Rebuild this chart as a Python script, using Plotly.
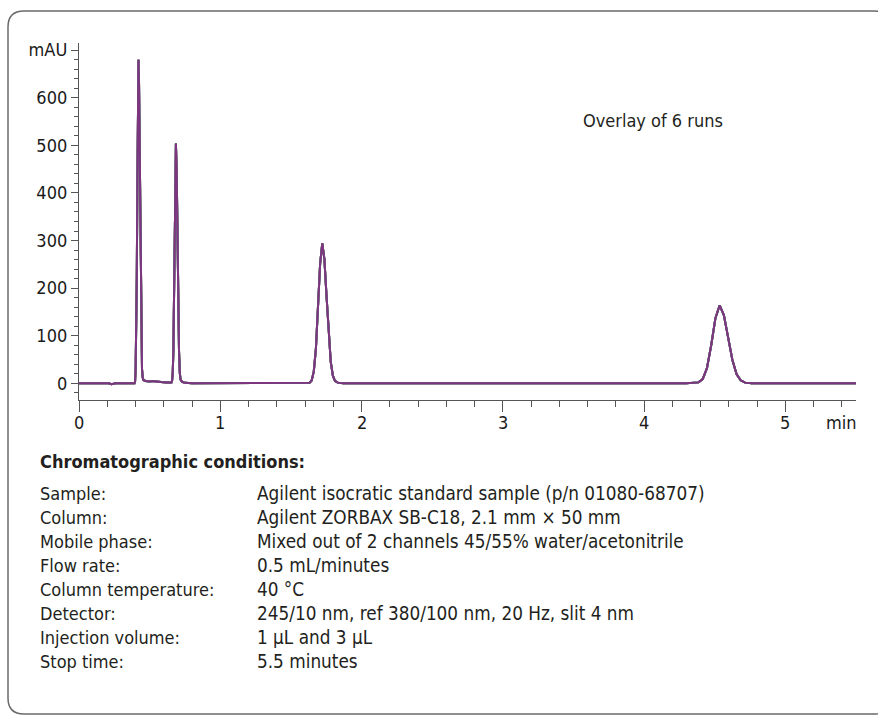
import plotly.graph_objects as go

# ---------------- data (time in min, signal in mAU) -------------
lead_time = [0.00, 0.21, 0.23, 0.245, 0.26, 0.393]
lead_mAU = [0, 0, -2, -1, 0, 0]

peak1_time = [0.397, 0.401, 0.405, 0.409, 0.413, 0.417, 0.421, 0.425, 0.429, 0.433, 0.437, 0.441, 0.446, 0.451, 0.456]
peak1_mAU = [4, 30, 92, 221, 412, 600, 680, 628, 494, 331, 189, 92, 30, 12, 7]

gap_time = [0.47, 0.50, 0.52, 0.54, 0.58, 0.62, 0.645, 0.654]
gap_mAU = [5, 4, 5, 4, 3, 2, 1.5, 2]

peak2_time = [0.659, 0.6635, 0.668, 0.6725, 0.677, 0.6815, 0.686, 0.6915, 0.697, 0.7025, 0.708, 0.7135, 0.719, 0.73, 0.75, 0.80]
peak2_mAU = [6, 22, 68, 164, 306, 445, 504, 445, 306, 164, 68, 22, 8, 3, 1, 0]

peak3_time = [1.60, 1.632, 1.647, 1.662, 1.677, 1.692, 1.707, 1.722, 1.737, 1.752, 1.767, 1.782, 1.797, 1.812, 1.832, 1.87]
peak3_mAU = [0, 1, 6, 25, 73, 159, 252, 294, 261, 184, 103, 45, 16, 5, 1.5, 0]

peak4_time = [4.30, 4.385, 4.415, 4.445, 4.475, 4.505, 4.535, 4.565, 4.595, 4.625, 4.655, 4.685, 4.715, 4.76, 5.50]
peak4_mAU = [0, 2, 9, 32, 80, 137, 164, 143, 96, 49, 19, 6, 1.5, 0, 0]

run_names = ["Run 1", "Run 2", "Run 3", "Run 4", "Run 5", "Run 6"]
run_colors = ["#3b5fc8", "#8c8a2e", "#8a8a8a", "#b05a6a", "#3a8a8a", "#7e3580"]

y_tickvals = [0, 100, 200, 300, 400, 500, 600, 700]
y_ticktext = ["0", "100", "200", "300", "400", "500", "600", "mAU"]
x_tickvals = [0, 1, 2, 3, 4, 5]
x_ticktext = ["0", "1", "2", "3", "4", "5"]

condition_labels = ["Sample:", "Column:", "Mobile phase:", "Flow rate:", "Column temperature:",
                    "Detector:", "Injection volume:", "Stop time:"]
condition_values = ["Agilent isocratic standard sample (p/n 01080-68707)",
                    "Agilent ZORBAX SB-C18, 2.1 mm × 50 mm",
                    "Mixed out of 2 channels 45/55% water/acetonitrile",
                    "0.5 mL/minutes",
                    "40 °C",
                    "245/10 nm, ref 380/100 nm, 20 Hz, slit 4 nm",
                    "1 µL and 3 µL",
                    "5.5 minutes"]

# ---------------- assemble ----------------
time = lead_time + peak1_time + gap_time + peak2_time + peak3_time + peak4_time
signal = lead_mAU + peak1_mAU + gap_mAU + peak2_mAU + peak3_mAU + peak4_mAU

W, H = 878, 717
L, R, T, B = 79, 856, 43, 400
FONT = "DejaVu Sans Condensed, Liberation Sans Narrow, Arial Narrow, sans-serif"
TXT = "#231f20"
TICKTXT = "#1a1a1a"


def px(xp):
    return (xp - L) / (R - L)


def py(yp):
    return (B - yp) / (B - T)


fig = go.Figure()
for name, col in zip(run_names, run_colors):
    fig.add_trace(go.Scatter(x=time, y=signal, mode="lines", name=name,
                             line=dict(color=col, width=2), showlegend=False,
                             hoverinfo="skip"))

fig.update_layout(
    width=W, height=H,
    margin=dict(l=L, r=W - R, t=T, b=H - B),
    paper_bgcolor="white", plot_bgcolor="white",
    font=dict(family=FONT, size=18, color=TXT),
    xaxis=dict(range=[0, 5.5], showgrid=False, zeroline=False, showline=True,
               linecolor="#555", linewidth=1.3, ticks="outside", ticklen=11,
               tickwidth=1.2, tickcolor="#555", tickvals=x_tickvals, showticklabels=False,
               minor=dict(dtick=0.2, tick0=0, ticks="outside", ticklen=6,
                          tickwidth=1.2, tickcolor="#555")),
    yaxis=dict(range=[-35, 715], showgrid=False, zeroline=False, showline=True,
               linecolor="#555", linewidth=1.3, ticks="outside", ticklen=7,
               tickwidth=1.2, tickcolor="#555", tickvals=y_tickvals, ticktext=y_ticktext,
               tickfont=dict(size=18, color=TICKTXT, family=FONT),
               minor=dict(dtick=20, tick0=0, ticks="outside", ticklen=4,
                          tickwidth=1.2, tickcolor="#555")),
)

annotations = [
    dict(text="Overlay of 6 runs", x=px(581), y=py(120), xanchor="left", yanchor="middle",
         xref="paper", font=dict(size=18)),
    dict(text="min", x=px(824), y=py(422), xanchor="left", yanchor="middle",
         xref="paper", font=dict(size=18, color=TICKTXT)),
    dict(text="<b>Chromatographic conditions:</b>", x=px(38), y=py(461), xanchor="left",
         xref="paper", yanchor="middle", font=dict(size=18)),
]
for v, t in zip(x_tickvals, x_ticktext):
    annotations.append(dict(text=t, x=v, xref="x", y=py(422), xanchor="center",
                            yanchor="middle", font=dict(size=18, color=TICKTXT)))
for i, (lab, val) in enumerate(zip(condition_labels, condition_values)):
    yy = 493 + 24 * i
    annotations.append(dict(text=lab, x=px(38), y=py(yy), xanchor="left", yanchor="middle",
                            xref="paper", font=dict(size=18)))
    annotations.append(dict(text=val, x=px(255), y=py(yy), xanchor="left", yanchor="middle",
                            xref="paper", font=dict(size=18.8)))
for a in annotations:
    a.update(yref="paper", showarrow=False)
fig.update_layout(annotations=annotations)

# rounded frame around the figure
l0, t0, r0, b0, rad = 8, 11, 890, 714, 16
path = (f"M {px(l0)} {py(t0 + rad)} Q {px(l0)} {py(t0)} {px(l0 + rad)} {py(t0)} "
        f"L {px(r0 - rad)} {py(t0)} Q {px(r0)} {py(t0)} {px(r0)} {py(t0 + rad)} "
        f"L {px(r0)} {py(b0 - rad)} Q {px(r0)} {py(b0)} {px(r0 - rad)} {py(b0)} "
        f"L {px(l0 + rad)} {py(b0)} Q {px(l0)} {py(b0)} {px(l0)} {py(b0 - rad)} Z")
fig.add_shape(type="path", path=path, xref="paper", yref="paper",
              line=dict(color="#6a6a6a", width=1.5), layer="below")

fig.write_html("out.html", config={"displayModeBar": False},
               post_script="document.body.style.margin='0px';document.body.style.overflow='hidden';")
